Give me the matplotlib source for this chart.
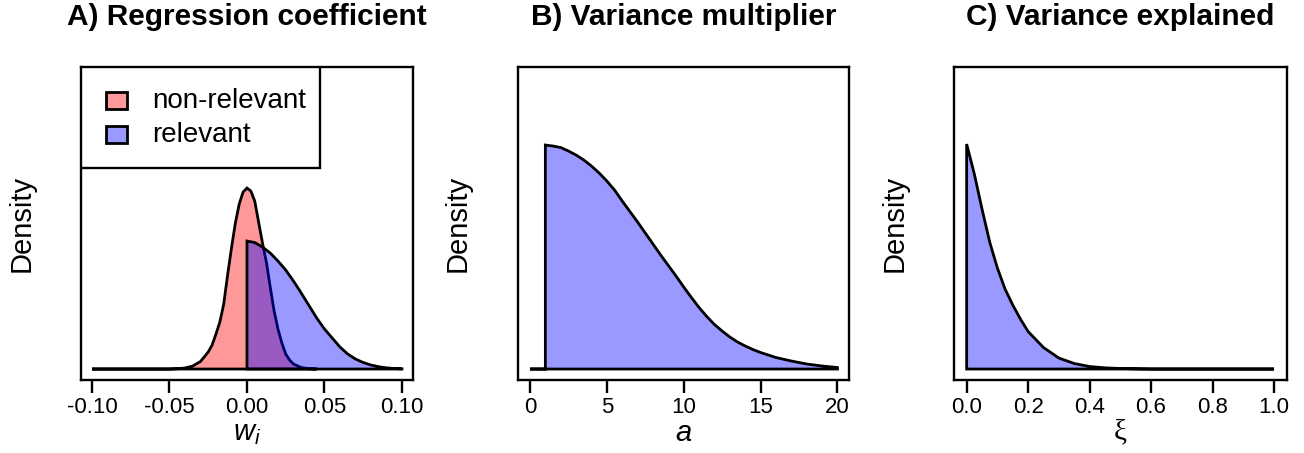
import matplotlib
matplotlib.use("Agg")
import matplotlib.pyplot as plt
from matplotlib.patches import Rectangle

plt.rcParams.update({
    "font.family": ["Liberation Sans", "DejaVu Sans"],
    "mathtext.fontset": "custom",
    "mathtext.rm": "Liberation Sans",
    "mathtext.it": "Liberation Sans:italic",
    "axes.linewidth": 1.7,
})

# heights (arbitrary density units, same scale in all panels)
# A) regression coefficient
w_nonrel = [-0.100, -0.050, -0.045, -0.040, -0.035, -0.030, -0.025, -0.0225, -0.020,
            -0.0175, -0.015, -0.0125, -0.010, -0.0075, -0.005, -0.0025, 0.000,
            0.0025, 0.005, 0.0075, 0.010, 0.0125, 0.015, 0.0175, 0.020, 0.0225,
            0.025, 0.0275, 0.030, 0.035, 0.040, 0.045]
d_nonrel = [0, 0, 0.3, 1, 3, 7.5, 17, 24, 35,
            47, 65, 94, 121, 146, 165, 177, 181,
            178, 168, 147, 126, 107, 82, 58, 40, 26,
            15, 9, 5, 1.5, 0.3, 0]
w_rel = [0.000, 0.000, 0.005, 0.010, 0.015, 0.020, 0.025, 0.030, 0.035, 0.040,
         0.045, 0.050, 0.055, 0.060, 0.065, 0.070, 0.075, 0.080, 0.085, 0.090,
         0.095, 0.100, 0.100]
d_rel = [0, 128, 126.5, 122, 116, 108, 99, 88, 76, 63.5,
         51, 40, 31, 22, 15, 10, 6.5, 4, 2.3, 1.2,
         0.5, 0.2, 0]
legend_labels = ["non-relevant", "relevant"]

# B) variance multiplier
a_vals = [0, 1, 1, 1.5, 2, 2.5, 3, 3.5, 4, 4.5, 5, 5.5, 6, 6.5, 7, 7.5, 8, 8.5, 9,
          9.5, 10, 10.5, 11, 11.5, 12, 12.5, 13, 13.5, 14, 14.5, 15, 16, 17, 18,
          19, 20, 20]
d_a = [0, 0, 224, 223, 221.5, 218, 214, 209, 203, 196, 188, 179, 168, 157.5, 147,
       136, 125, 114, 103.5, 93, 82, 71.5, 61.5, 52.5, 44.5, 38, 32, 27, 23, 19.5,
       16.5, 11.5, 8, 5, 3, 1.5, 0]

# C) variance explained
xi_vals = [0, 0, 0.025, 0.05, 0.075, 0.1, 0.125, 0.15, 0.175, 0.2, 0.25, 0.3,
           0.35, 0.4, 0.45, 0.5, 0.55, 0.6, 1.0]
d_xi = [0, 225, 195, 160, 127, 101, 80, 64, 50, 37.5, 21.5, 11, 5.5, 2.5, 1.2,
        0.5, 0.2, 0, 0]

RED = (1, 0, 0, 0.4)
BLUE = (0, 0, 1, 0.4)
LW = 2.0


def style(ax, ticks, labels, xlim, xlabel, title, **lab_kw):
    ax.set_xlim(*xlim)
    ax.set_ylim(-11, 302)
    ax.set_yticks([])
    ax.set_xticks(ticks)
    ax.set_xticklabels(labels)
    ax.tick_params(axis="x", direction="out", length=9, width=1.7, pad=3, labelsize=16)
    ax.set_ylabel("Density", fontsize=21, labelpad=33)
    ax.set_xlabel(xlabel, fontsize=21, labelpad=1, **lab_kw)
    ax.set_title(title, fontsize=21.5, fontweight="bold", pad=30)


fig = plt.figure(figsize=(13.04, 4.53), dpi=100)
axA = fig.add_axes([0.0621, 0.1611, 0.2546, 0.6909])
axB = fig.add_axes([0.3970, 0.1611, 0.2543, 0.6909])
axC = fig.add_axes([0.7318, 0.1611, 0.2549, 0.6909])

axA.fill(w_nonrel, d_nonrel, facecolor=RED, edgecolor="black", lw=LW)
axA.fill(w_rel, d_rel, facecolor=BLUE, edgecolor="black", lw=LW)
style(axA, [-0.10, -0.05, 0.00, 0.05, 0.10],
      ["-0.10", "-0.05", "0.00", "0.05", "0.10"],
      (-0.1071, 0.1071), "$w_i$", "A) Regression coefficient")

# R-style legend box in the top-left corner (drawn by hand, padding is uneven)
tr = axA.transAxes
axA.add_patch(Rectangle((0, 0.677), 0.72, 0.323, transform=tr, facecolor="white",
                        edgecolor="black", lw=1.7, zorder=5))
for k, (lab, col) in enumerate(zip(legend_labels, [RED, BLUE])):
    yc = 0.893 - k * 0.109
    axA.add_patch(Rectangle((0.0753, yc - 0.027), 0.0633, 0.054, transform=tr,
                            facecolor=col, edgecolor="black", lw=LW, zorder=6))
    axA.text(0.214, yc, lab, transform=tr, fontsize=20, va="center", ha="left", zorder=6)

axB.fill(a_vals, d_a, facecolor=BLUE, edgecolor="black", lw=LW)
style(axB, [0, 5, 10, 15, 20], ["0", "5", "10", "15", "20"],
      (-0.8, 20.77), "a", "B) Variance multiplier", fontstyle="italic")

axC.fill(xi_vals, d_xi, facecolor=BLUE, edgecolor="black", lw=LW)
style(axC, [0, 0.2, 0.4, 0.6, 0.8, 1.0], ["0.0", "0.2", "0.4", "0.6", "0.8", "1.0"],
      (-0.0403, 1.0413), "ξ", "C) Variance explained", family="Liberation Serif")

fig.savefig("out.png", dpi=100)
